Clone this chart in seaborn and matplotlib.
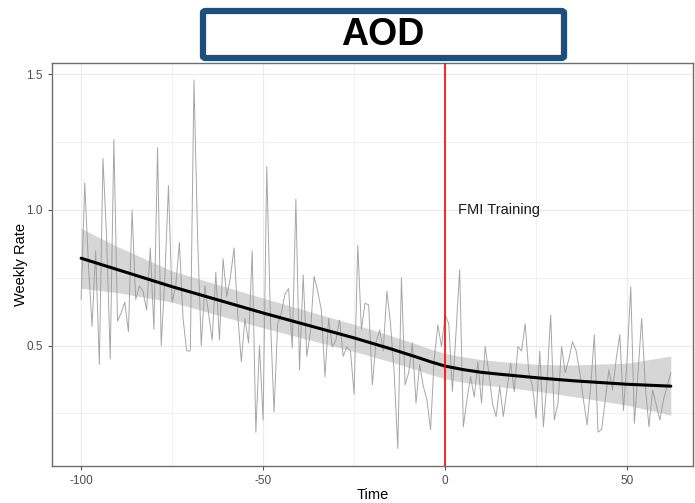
import numpy as np
import pandas as pd
import matplotlib
matplotlib.use("Agg")
import matplotlib.pyplot as plt
import seaborn as sns
from matplotlib.patches import FancyBboxPatch

# ---- data ----
time = list(range(-100, 63))
rate = [
    0.67, 1.10, 0.80, 0.57, 0.85, 0.43, 1.19, 0.90, 0.45, 1.26,   # -100..-91
    0.59, 0.62, 0.66, 0.55, 1.00, 0.67, 0.72, 0.70, 0.63, 0.86,   # -90..-81
    0.56, 1.23, 0.50, 0.75, 1.09, 0.66, 0.72, 0.88, 0.60, 0.48,   # -80..-71
    0.48, 1.48, 0.90, 0.50, 0.72, 0.62, 0.52, 0.77, 0.52, 0.82,   # -70..-61
    0.68, 0.75, 0.86, 0.62, 0.44, 0.60, 0.51, 0.85, 0.18, 0.50,   # -60..-51
    0.225, 1.16, 0.60, 0.255, 0.58, 0.62, 0.69, 0.71, 0.49, 1.04, # -50..-41
    0.41, 0.76, 0.46, 0.55, 0.755, 0.70, 0.63, 0.385, 0.60, 0.495,# -40..-31
    0.52, 0.594, 0.46, 0.495, 0.48, 0.32, 0.87, 0.56, 0.656, 0.65,# -30..-21
    0.355, 0.51, 0.558, 0.48, 0.70, 0.58, 0.40, 0.12, 0.75, 0.355,# -20..-11
    0.40, 0.51, 0.287, 0.43, 0.35, 0.30, 0.19, 0.45, 0.576, 0.496,# -10..-1
    0.613, 0.58, 0.33, 0.55, 0.78, 0.20, 0.30, 0.385, 0.31, 0.44, # 0..9
    0.287, 0.496, 0.40, 0.287, 0.238, 0.35, 0.238, 0.34, 0.435, 0.33, # 10..19
    0.496, 0.48, 0.58, 0.40, 0.35, 0.232, 0.48, 0.20, 0.37, 0.613,# 20..29
    0.225, 0.287, 0.496, 0.40, 0.45, 0.514, 0.48, 0.40, 0.30, 0.207, # 30..39
    0.35, 0.54, 0.18, 0.19, 0.30, 0.41, 0.336, 0.45, 0.54, 0.26,  # 40..49
    0.45, 0.717, 0.213, 0.40, 0.60, 0.35, 0.20, 0.336, 0.28, 0.225, # 50..59
    0.30, 0.35, 0.40,                                             # 60..62
]

smooth_t = [-100, -90, -75, -50, -25, -15, -8, -4, 0, 5, 10, 15, 26, 35, 50, 62]
smooth_fit = [0.822, 0.780, 0.717, 0.620, 0.528, 0.488, 0.458, 0.440, 0.424, 0.411, 0.401, 0.394, 0.380, 0.370, 0.357, 0.350]
smooth_lo = [0.711, 0.695, 0.660, 0.565, 0.478, 0.440, 0.411, 0.393, 0.377, 0.364, 0.355, 0.348, 0.330, 0.312, 0.280, 0.243]
smooth_hi = [0.932, 0.865, 0.775, 0.675, 0.578, 0.537, 0.506, 0.487, 0.471, 0.458, 0.448, 0.441, 0.430, 0.428, 0.435, 0.461]

x_ticks = [-100, -50, 0, 50]
y_ticks = [0.5, 1.0, 1.5]
y_tick_labels = ["0.5", "1.0", "1.5"]

df = pd.DataFrame({"Time": time, "Rate": rate})
sm = pd.DataFrame({"Time": smooth_t, "Fit": smooth_fit, "Lo": smooth_lo, "Hi": smooth_hi})

sns.set_style("white")
plt.rcParams["font.family"] = ["Liberation Sans", "DejaVu Sans"]

fig = plt.figure(figsize=(6.95, 5.03), dpi=100)
ax = fig.add_axes([52/695, 1-466/503, (693-52)/695, (466-63)/503])

# grid
for v in [-100, -75, -50, -25, 0, 25, 50]:
    ax.axvline(v, color="#ebebeb", lw=0.8 if v % 50 == 0 else 0.5, zorder=0)
for v in [0.25, 0.5, 0.75, 1.0, 1.25, 1.5]:
    ax.axhline(v, color="#ebebeb", lw=0.8 if abs(v*2 - round(v*2)) < 1e-9 else 0.5, zorder=0)

sns.lineplot(data=df, x="Time", y="Rate", ax=ax, color="#a6a6a6", lw=0.7, zorder=2)
ax.fill_between(sm["Time"], sm["Lo"], sm["Hi"], color="#999999", alpha=0.4, lw=0, zorder=3)
sns.lineplot(data=sm, x="Time", y="Fit", ax=ax, color="black", lw=2.2, zorder=4)
ax.axvline(0, color="#ff0000", lw=1.2, zorder=5)
ax.text(3.5, 1.0, "FMI Training", fontsize=10.5, color="#1a1a1a", ha="left", va="center", zorder=6)

ax.set_xlim(-108, 68.1)
ax.set_ylim(0.0554, 1.5424)
ax.set_xticks(x_ticks)
ax.set_xticklabels([str(v) for v in x_ticks])
ax.set_yticks(y_ticks)
ax.set_yticklabels(y_tick_labels)
ax.tick_params(axis="both", which="major", length=3, width=0.8, color="#555555",
               labelcolor="#4d4d4d", labelsize=8.5, direction="out", bottom=True, left=True)
for s in ax.spines.values():
    s.set_color("#6e6e6e")
    s.set_linewidth(1.0)
ax.set_xlabel("Time", fontsize=10.5, color="black", labelpad=1)
ax.set_ylabel("Weekly Rate", fontsize=10.5, color="black", labelpad=-1)

# title box
box = FancyBboxPatch((203/695, 1-58/503), (564-203)/695, (58-11)/503,
                     boxstyle="round,pad=0,rounding_size=0.004",
                     transform=fig.transFigure, facecolor="white",
                     edgecolor="#1b507c", linewidth=4.5, zorder=10)
fig.patches.append(box)
fig.text(383/695, 1-35/503, "AOD", fontsize=27, fontweight="bold", ha="center",
         va="center", color="black", zorder=11)

fig.savefig("out.png", dpi=100)
